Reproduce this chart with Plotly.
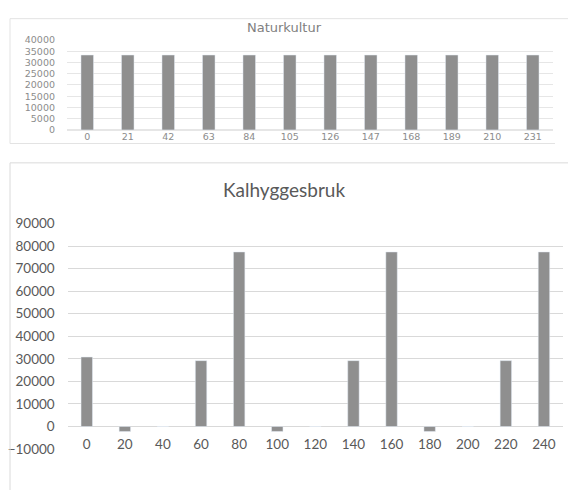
import plotly.graph_objects as go

W, H = 568, 498

# data
natur_years = ['0', '21', '42', '63', '84', '105', '126', '147', '168', '189', '210', '231']
natur_values = [33300, 33300, 33300, 33300, 33300, 33300, 33300, 33300, 33300, 33300, 33300, 33300]

kal_years = ['0', '20', '40', '60', '80', '100', '120', '140', '160', '180', '200', '220', '240']
kal_values = [30800, -2200, 0, 29200, 77400, -2200, 0, 29200, 77400, -2200, 0, 29200, 77400]

top_ticks = [0, 5000, 10000, 15000, 20000, 25000, 30000, 35000, 40000]
bottom_ticks = [-10000, 0, 10000, 20000, 30000, 40000, 50000, 60000, 70000, 80000, 90000]

BAR = '#8f8f8f'
GRID = '#d9d9d9'


def px(x):
    return x / W


def py(y):
    return 1 - y / H


fig = go.Figure()
fig.add_trace(go.Bar(x=natur_years, y=natur_values, marker_color=BAR, width=0.31,
                     xaxis='x', yaxis='y', showlegend=False))
fig.add_trace(go.Bar(x=kal_years, y=kal_values, marker_color=BAR, width=0.30,
                     xaxis='x2', yaxis='y2', showlegend=False))

small = dict(family='DejaVu Sans', size=9.5, color='#8c8c8c')
big = dict(family='Lato', size=13.5, color='#595959')

fig.update_layout(
    width=W, height=H,
    margin=dict(l=0, r=0, t=0, b=0),
    paper_bgcolor='white', plot_bgcolor='white',
    xaxis=dict(domain=[px(67), px(553)], anchor='y', type='category',
               showgrid=False, showline=False, ticks='', tickfont=small,
               ticklabelstandoff=0),
    yaxis=dict(domain=[py(126), py(33)], anchor='x', range=[0, 40000],
               tickvals=top_ticks, tickformat='d', gridcolor='#e6e6e6', gridwidth=1,
               zeroline=True, zerolinecolor='#e6e6e6', showline=False,
               tickfont=small, ticklabelstandoff=11),
    xaxis2=dict(domain=[px(67.7), px(563)], anchor='free', position=py(441),
                type='category', showgrid=False, showline=False, ticks='',
                tickfont=big),
    yaxis2=dict(domain=[py(455.7), py(222.7)], anchor='x2', range=[-10000, 90000],
                tickvals=bottom_ticks, tickformat='d', gridcolor=GRID, gridwidth=1,
                zeroline=True, zerolinecolor=GRID, zerolinewidth=1, showline=False,
                tickfont=big, ticklabelstandoff=12),
    annotations=[
        dict(text='Naturkultur', x=0.5, y=py(20), xref='paper', yref='paper',
             yanchor='middle', showarrow=False,
             font=dict(family='DejaVu Sans', size=13, color='#7f7f7f')),
        dict(text='Kalhyggesbruk', x=0.5, y=py(188), xref='paper', yref='paper',
             yanchor='middle', showarrow=False,
             font=dict(family='Lato', size=19, color='#595959')),
    ],
    shapes=[
        dict(type='line', xref='paper', yref='paper', x0=px(10), x1=1, y0=py(11), y1=py(11),
             line=dict(color='#e3e3e3', width=1)),
        dict(type='line', xref='paper', yref='paper', x0=px(10), x1=px(555), y0=py(140), y1=py(140),
             line=dict(color='#e3e3e3', width=1)),
        dict(type='line', xref='paper', yref='paper', x0=px(10), x1=px(10), y0=py(11), y1=py(140),
             line=dict(color='#e3e3e3', width=1)),
        dict(type='line', xref='paper', yref='paper', x0=px(10), x1=1, y0=py(160), y1=py(160),
             line=dict(color='#dadada', width=1)),
        dict(type='line', xref='paper', yref='paper', x0=px(10), x1=px(10), y0=py(160), y1=0,
             line=dict(color='#dadada', width=1)),
    ],
)

pin = ("document.body.style.margin='0';"
       "var d=document.getElementById('{plot_id}');"
       "d.style.position='fixed';d.style.top='0px';d.style.left='0px';")
fig.write_html('out.html', config={'displayModeBar': False}, post_script=pin)
